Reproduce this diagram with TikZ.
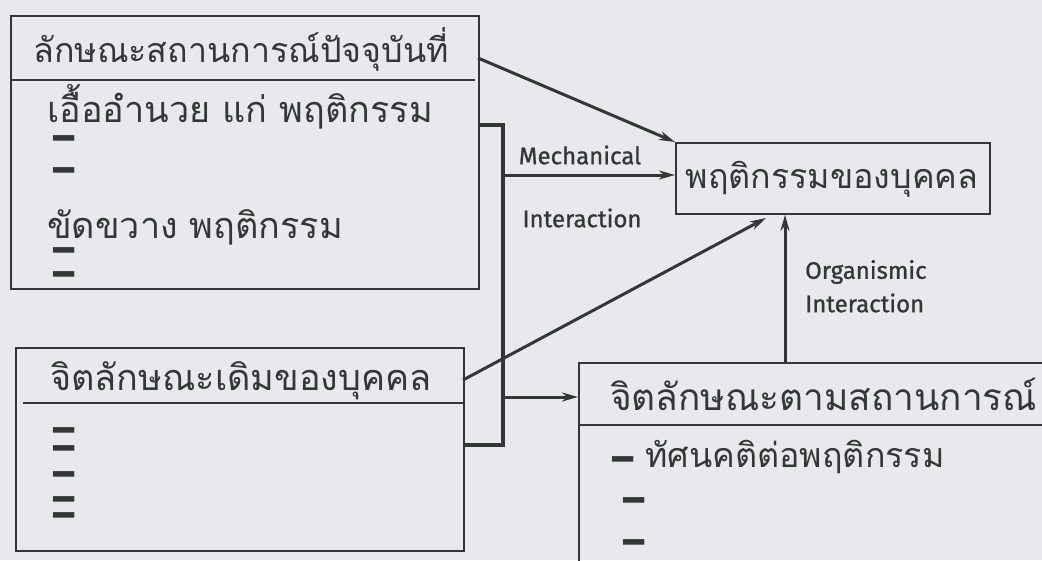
\documentclass[tikz,border=0pt]{standalone}
\usepackage{graphicx}
\usepackage{fontspec}
\newfontfamily\thaifont[Script=Thai]{Loma}
\newfontfamily\latfont[FakeBold=1]{Fira Sans}
\newfontfamily\dashfont{DejaVu Sans}
\usetikzlibrary{arrows.meta}
\definecolor{bg}{HTML}{E9E9ED}
\definecolor{ink}{HTML}{333836}
\newcommand{\thsz}[1]{\thaifont\fontsize{#1}{#1}\selectfont}
\newcommand{\bardash}{\scalebox{1.6}[1.3]{–}}
\begin{document}
\begin{tikzpicture}[x=1pt,y=-1pt,
  box/.style={draw=ink,line width=1.8pt,rectangle,inner sep=0pt,anchor=north west},
  sep/.style={draw=ink,line width=1.6pt},
  ttl/.style={text=ink,inner sep=0pt,anchor=base,text height=22pt,text depth=4pt},
  itm/.style={text=ink,inner sep=0pt,anchor=base west,text height=22pt,text depth=4pt},
  dsh/.style={text=ink,font=\dashfont\bfseries\fontsize{34}{34}\selectfont,inner sep=0pt,anchor=base west,text height=18pt,text depth=0pt},
  lbl/.style={text=ink,font=\latfont\fontsize{24}{26}\selectfont,inner sep=0pt},
  conn/.style={draw=ink,line width=3pt,-{Stealth[length=16pt,width=9pt,inset=5pt]}},
  brk/.style={draw=ink,line width=4.5pt}]
\fill[bg] (0,0) rectangle (1042,560);
\useasboundingbox (0,0) rectangle (1042,560);
% box 1
\node[box,minimum width=468pt,minimum height=273pt] (b1) at (10,15) {};
\draw[sep] (10,80) -- (475,80);
\node[ttl,font=\thsz{34}] (t1) at (241,62) {ลักษณะสถานการณ์ปัจจุบันที่};
\node[itm,font=\thsz{36}] (i1) at (47,122) {เอื้ออำนวย แก่ พฤติกรรม};
\node[dsh] (d11) at (50,150) {\bardash};
\node[dsh] (d12) at (50,182) {\bardash};
\node[itm,font=\thsz{36}] (i2) at (47,238) {ขัดขวาง พฤติกรรม};
\node[dsh] (d13) at (50,262) {\bardash};
\node[dsh] (d14) at (50,286) {\bardash};
% box 2
\node[box,minimum width=314pt,minimum height=71pt] (b2) at (675,142) {};
\node[ttl,font=\thsz{34}] (t2) at (832,188) {พฤติกรรมของบุคคล};
% box 3
\node[box,minimum width=448pt,minimum height=203pt] (b3) at (15,347) {};
\draw[sep] (23,403) -- (463,403);
\node[ttl,font=\thsz{36}] (t3) at (241,390) {จิตลักษณะเดิมของบุคคล};
\node[dsh] (d31) at (50,442) {\bardash};
\node[dsh] (d32) at (50,460) {\bardash};
\node[dsh] (d33) at (50,486) {\bardash};
\node[dsh] (d34) at (50,511) {\bardash};
\node[dsh] (d35) at (50,527) {\bardash};
% box 4
\node[box,minimum width=480pt,minimum height=240pt] (b4) at (578,362) {};
\draw[sep] (578,425) -- (1042,425);
\node[itm,font=\thsz{37}] (t4) at (610,410) {จิตลักษณะตามสถานการณ์};
\node[itm,font=\thsz{34}] (i4) at (609,467) {{\dashfont\bfseries\fontsize{34}{34}\selectfont\raisebox{-4pt}{\bardash}}\hspace{9pt}ทัศนคติต่อพฤติกรรม};
\node[dsh] (d41) at (620,512) {\bardash};
\node[dsh] (d42) at (620,554) {\bardash};
% bracket
\coordinate (k1) at (478,125);
\coordinate (k2) at (503,125);
\coordinate (k3) at (503,445);
\coordinate (k4) at (463,445);
\coordinate (m1) at (503,175);
\coordinate (m2) at (503,397);
\draw[brk,line join=miter] (k1) -- (k2) -- (k3) -- (k4);
% connectors
\coordinate (s1) at (478,58);
\draw[conn] (s1) -- (b2.north west);
\draw[conn] (m1) -- (b2.west |- m1);
\draw[conn] (m2) -- (b4.west |- m2);
\coordinate (s3) at (463,380);
\coordinate (e3) at (766,218);
\draw[conn] (s3) -- (e3);
\draw[conn] (b4.north -| 785,0) -- (b2.south -| 785,0);
% labels
\node[lbl] (l1) at (580,155) {Mechanical};
\node[lbl] (l2) at (582,218) {Interaction};
\node[lbl,anchor=west] (l3) at (805,272) {Organismic};
\node[lbl,anchor=west] (l4) at (805,303) {Interaction};
\end{tikzpicture}
\end{document}
